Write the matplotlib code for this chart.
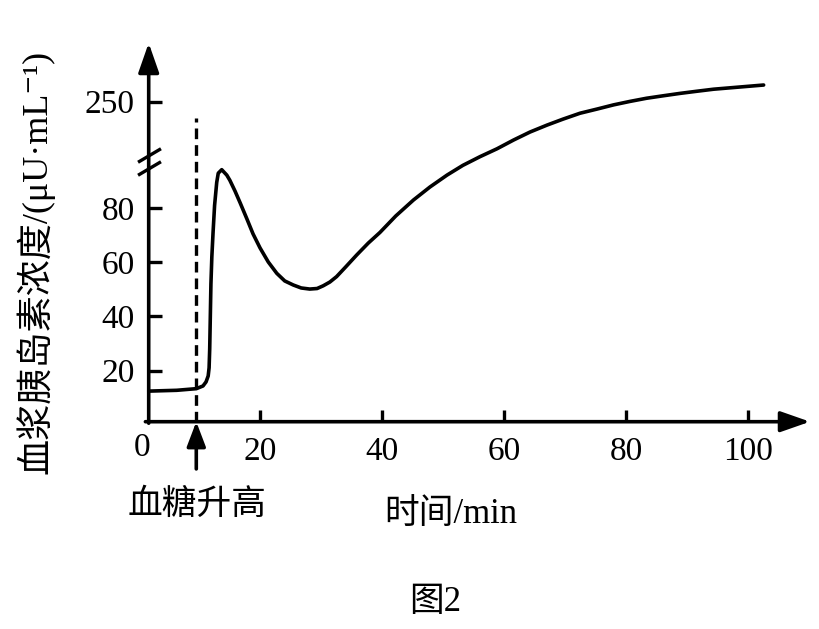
import numpy as np
import matplotlib
matplotlib.use('Agg')
from matplotlib import pyplot as plt

plt.rcParams['font.family'] = ['Liberation Serif', 'DejaVu Serif', 'Noto Sans CJK SC']

# 数据
time_min = [1.7, 6.3, 9.5, 10.6, 11.1, 11.45, 11.6, 11.7, 11.8, 11.9, 12.05, 12.25,
            12.5, 12.85, 13.1, 13.67, 14.5, 15.0, 15.85, 16.7, 17.8, 18.8, 19.95, 21.3,
            22.7, 24.0, 25.4, 26.7, 28.1, 29.3, 30.3, 31.4, 32.5, 34.0, 35.8, 37.7,
            39.6, 42.2, 45.1, 47.8, 50.6, 53.2, 56.0, 58.8, 61.5, 64.2, 67.0, 69.6,
            72.4, 75.2, 77.9, 80.6, 83.3, 86.0, 88.8, 91.5, 94.3, 98.4, 102.5]
insulin = [12.4, 12.7, 13.3, 14.3, 15.8, 18.0, 21.0, 28.0, 40.0, 52.0, 62.0, 71.0,
           81.0, 89.5, 92.9, 94.2, 92.2, 90.3, 86.3, 81.9, 76.0, 70.5, 65.3, 60.1,
           55.9, 53.1, 51.6, 50.5, 50.1, 50.3, 51.3, 52.7, 54.7, 58.3, 62.7, 67.1,
           71.0, 77.1, 83.0, 87.8, 92.2, 95.8, 99.0, 115, 140, 163, 183, 200,
           217, 229, 241, 251, 260, 267, 274, 280, 286, 292, 298]

x_ticks = [20, 40, 60, 80, 100]
y_ticks = [20, 40, 60, 80, 250]
y_ticklabels = ['20', '40', '60', '80', '250']
sugar_time = 9.5   # 血糖升高时刻

# 纵轴断裂：100以上压缩
BRK = 100.0
K = 19.3 / 150


def fwd(v):
    v = np.asarray(v, dtype=float)
    return np.where(v <= BRK, v, BRK + (v - BRK) * K)


def inv(u):
    u = np.asarray(u, dtype=float)
    return np.where(u <= BRK, u, BRK + (u - BRK) / K)


W, H = 819, 629
fig = plt.figure(figsize=(W / 100, H / 100), dpi=100)
ax = fig.add_axes([148.7 / W, (H - 421.7) / H, (810 - 148.7) / W, (421.7 - 43) / H])
ax.set_yscale('function', functions=(fwd, inv))
ax.set_xlim(1.7, 110.1)
ax.set_ylim(1.1, float(inv(141.0)))

for s in ax.spines.values():
    s.set_visible(False)

lw = 2.6
# 坐标轴与箭头
arrow = dict(arrowstyle='-|>,head_length=1.2,head_width=0.42', lw=lw, color='k',
             mutation_scale=15, shrinkA=0, shrinkB=0)
ax.annotate('', xy=(0, 1), xytext=(0, -0.004), xycoords='axes fraction', arrowprops=arrow)
ax.annotate('', xy=(1, 0), xytext=(-0.005, 0), xycoords='axes fraction', arrowprops=arrow)

ax.set_xticks(x_ticks)
ax.set_yticks(y_ticks)
ax.set_yticklabels(y_ticklabels)
ax.minorticks_off()
ax.tick_params(axis='both', direction='in', length=9, width=2.4, labelsize=24, color='k')
ax.tick_params(axis='x', pad=11)
ax.tick_params(axis='y', pad=10)

# 断裂符号
ax.plot([1.7, 1.7], [99.8, 95.0], ls='none', marker=[(-1, -0.59), (1, 0.59)],
        ms=16.5, mew=2.4, color='k', clip_on=False)

# 曲线
ax.plot(time_min, insulin, color='k', lw=lw, solid_capstyle='round',
        solid_joinstyle='round', clip_on=False)

# 虚线与箭头
ax.plot([sugar_time, sugar_time], [1.1, float(inv(113.3))], color='k', lw=2.4,
        dashes=(3.2, 1.8))
ax.annotate('', xy=(sugar_time, 1.1), xytext=(0, -34), textcoords='offset points',
            arrowprops=dict(arrowstyle='-|>,head_length=1.0,head_width=0.38', lw=lw,
                            color='k', mutation_scale=15, shrinkA=0, shrinkB=0))

fs = 24
fig.text(142 / W, 1 - 448 / H, '0', fontsize=fs, ha='center', va='center')
fig.text(197 / W, 1 - 505 / H, '血糖升高', fontsize=25, ha='center', va='center')
fig.text(451 / W, 1 - 515 / H, '时间/min', fontsize=25, ha='center', va='center')
fig.text(435 / W, 1 - 602 / H, '图2', fontsize=25, ha='center', va='center')
fig.text(35 / W, 1 - 262 / H, '血浆胰岛素浓度/(μU·mL⁻¹)', fontsize=26, rotation=90,
         ha='center', va='center')

plt.savefig('out.png', dpi=100, facecolor='white')
print('finish')
